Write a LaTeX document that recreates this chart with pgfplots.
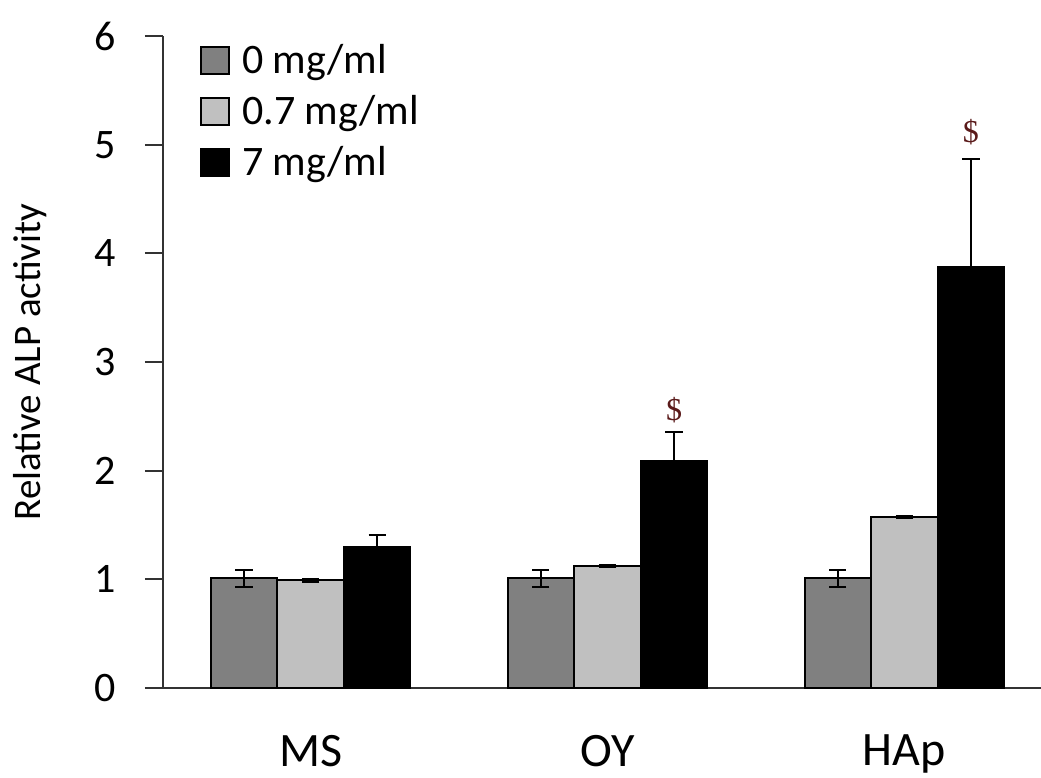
\documentclass[border=0pt]{standalone}
\usepackage{pgfplots}
\pgfplotsset{compat=1.18}
\usepackage{fontspec}
\setmainfont{Carlito}
\newfontfamily\serifdollar{Liberation Serif}
\definecolor{dgray}{HTML}{808080}
\definecolor{lgray}{HTML}{C0C0C0}
\definecolor{dollar}{HTML}{5A1A1A}
\begin{document}
\begin{tikzpicture}
\useasboundingbox (-81.5pt,-45pt) rectangle (439pt,344pt);
\begin{axis}[
  scale only axis,
  width=439pt, height=326pt,
  xmin=-0.497, xmax=2.46,
  ymin=0, ymax=6,
  ytick={0,1,2,3,4,5,6},
  xtick={0,1,2},
  xticklabels={MS,OY,HAp},
  major x tick style={draw=none},
  xticklabel style={font=\fontsize{24}{27}\selectfont, anchor=north, yshift=-11pt},
  yticklabel style={font=\fontsize{21}{24}\selectfont, anchor=east, xshift=-11pt},
  /pgf/number format/assume math mode=true,
  axis x line=bottom, axis y line=left,
  axis line style={-, line width=1pt, black!80},
  y tick style={line width=1pt, black!80},
  ytick align=outside, major tick length=9pt,
  ylabel={Relative ALP activity},
  ylabel style={font=\fontsize{19.5}{22}\selectfont, yshift=17pt},
  ybar=0pt, bar width=33.3pt,
  legend style={at={(0.035,1.0)}, anchor=north west, draw=none, fill=none,
    font=\fontsize{21}{24}\selectfont, row sep=5.5pt,
    /tikz/every odd column/.append style={column sep=4pt}},
  legend cell align=left,
  legend image code/.code={\draw[#1, line width=1pt] (0pt,-6.8pt) rectangle (14pt,6.8pt);},
  clip=false,
]
\addplot[fill=dgray, draw=black, line width=1pt,
  error bars/.cd, y dir=both, y explicit,
  error bar style={line width=1pt, black},
  error mark options={rotate=90, mark size=4.3pt, line width=1pt, black}]
  coordinates {(0,1.01) +- (0,0.08) (1,1.01) +- (0,0.08) (2,1.01) +- (0,0.08)};
\addplot[fill=lgray, draw=black, line width=1pt,
  error bars/.cd, y dir=both, y explicit,
  error bar style={line width=1pt, black},
  error mark options={rotate=90, mark size=4.3pt, line width=1pt, black}]
  coordinates {(0,0.99) +- (0,0.01) (1,1.12) +- (0,0.01) (2,1.57) +- (0,0.01)};
\addplot[fill=black, draw=black, line width=1pt,
  error bars/.cd, y dir=both, y explicit,
  error bar style={line width=1pt, black},
  error mark options={rotate=90, mark size=4.3pt, line width=1pt, black}]
  coordinates {(0,1.30) +- (0,0.11) (1,2.09) +- (0,0.27) (2,3.87) +- (0,1.00)};
\legend{0 mg/ml, 0.7 mg/ml, 7 mg/ml}
\node[text=dollar, font=\serifdollar\fontsize{16}{18}\selectfont] at (axis cs:1.224,2.56) {\$};
\node[text=dollar, font=\serifdollar\fontsize{16}{18}\selectfont] at (axis cs:2.224,5.12) {\$};
\end{axis}
\end{tikzpicture}
\end{document}
